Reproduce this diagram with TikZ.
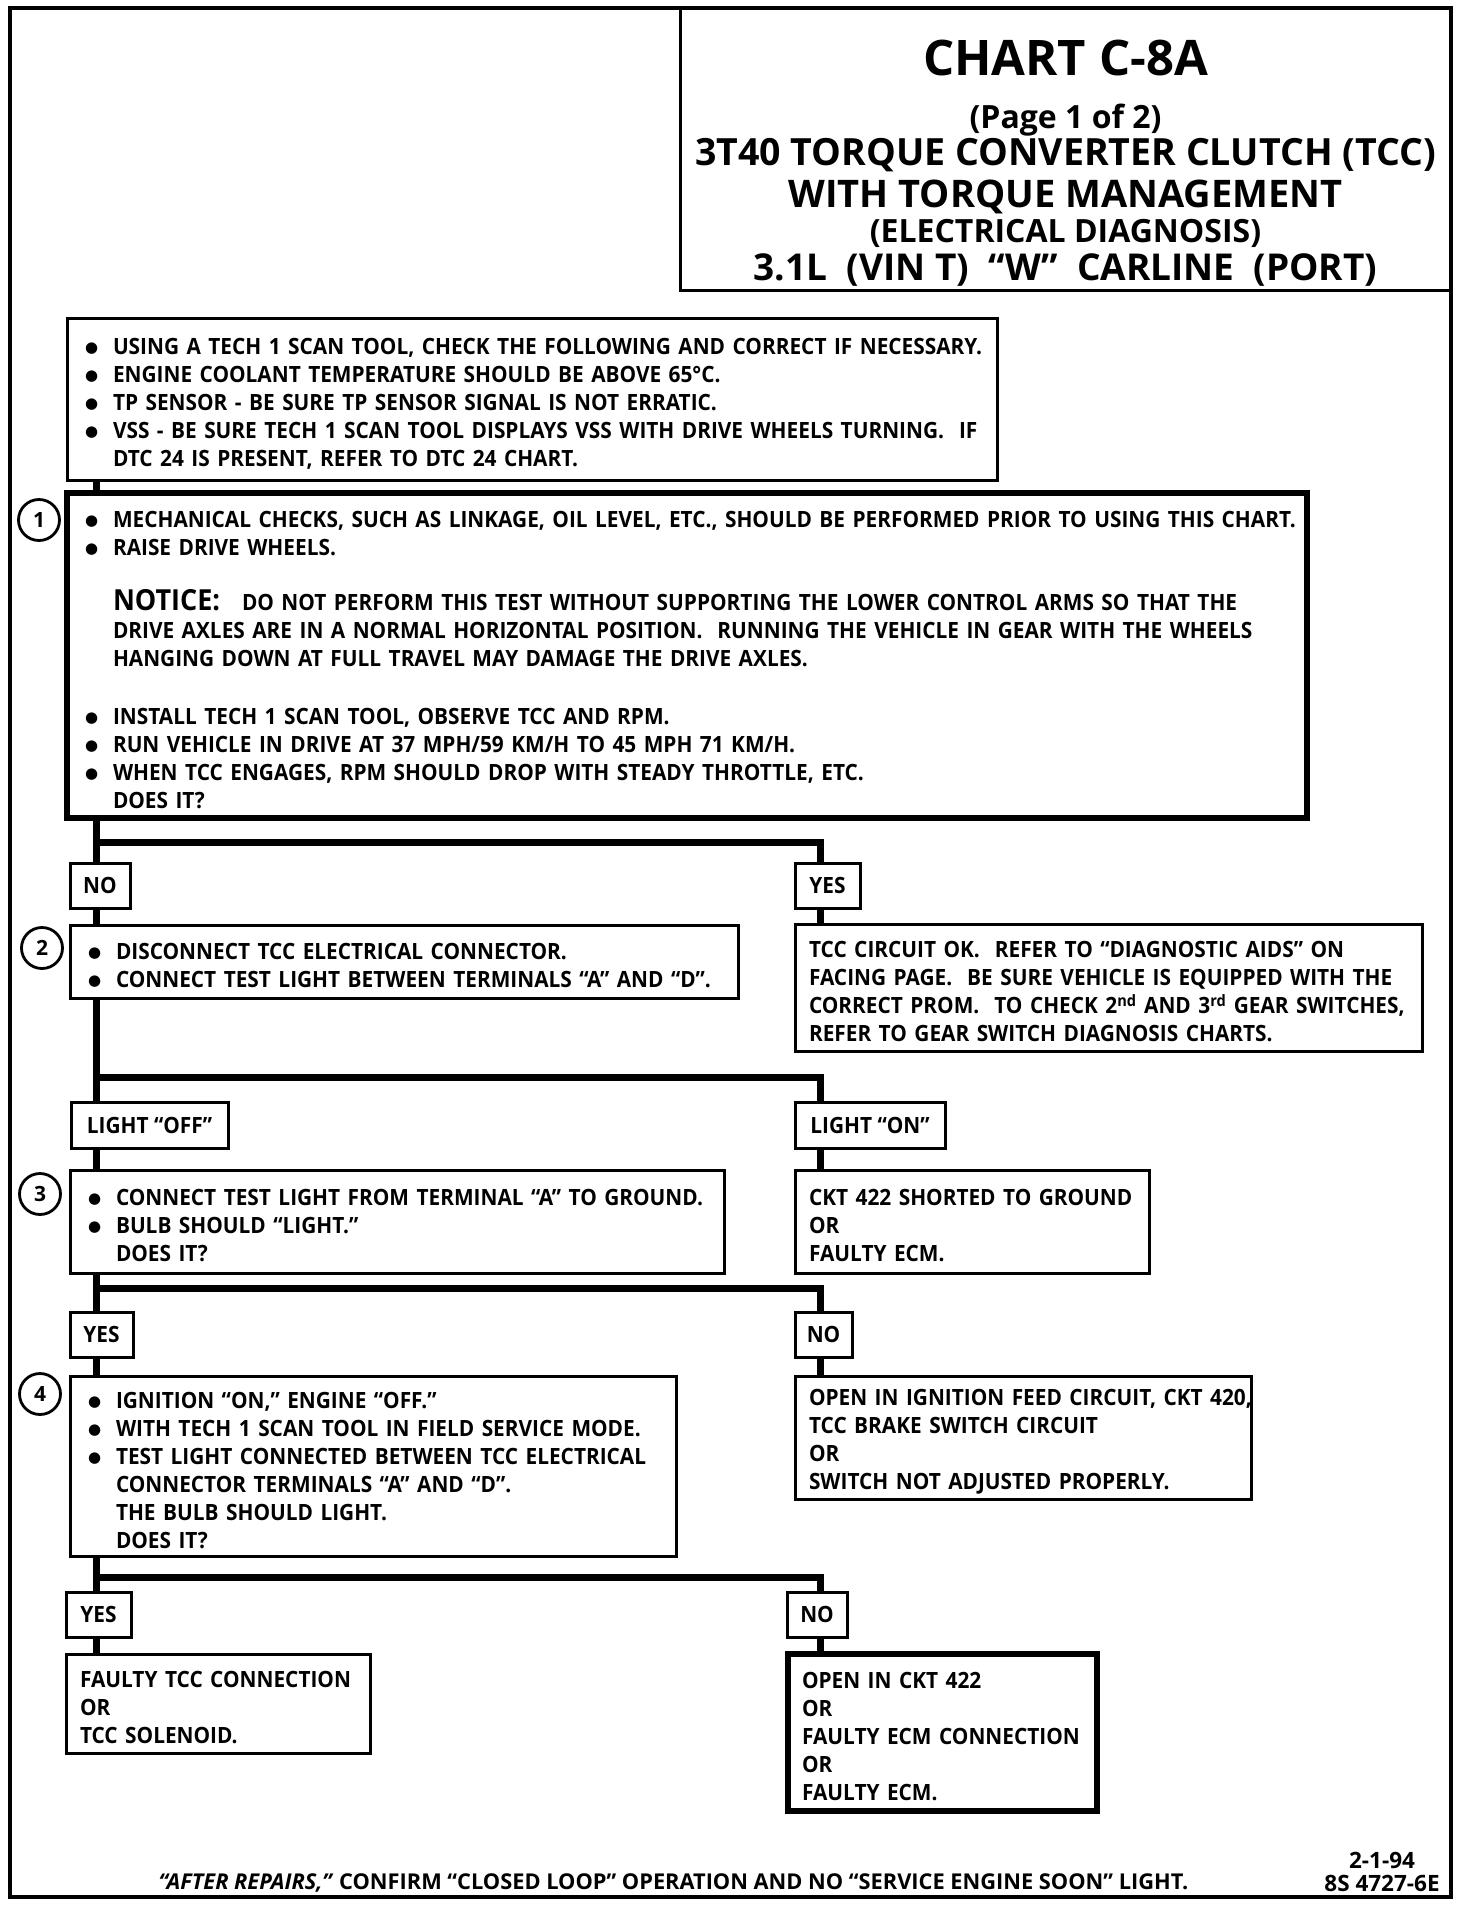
\documentclass[tikz,border=0pt]{standalone}
\usepackage{fontspec}
\newfontfamily\chartfont{Open Sans}[FakeStretch=0.93]
\newfontfamily\headfont{Open Sans}
\newfontfamily\dotfont{DejaVu Sans}
\usetikzlibrary{positioning}

\newcommand{\bul}{\hspace*{10pt}\makebox[28pt][l]{\raisebox{2pt}{\dotfont\fontsize{15}{15}\selectfont ●}}}
\newcommand{\ind}{\hspace*{38pt}}
\newcommand{\drop}{\rule{0pt}{25pt}}

\begin{document}
\begin{tikzpicture}[x=1pt, y=-1pt,
    txt/.style={font=\chartfont\bfseries\fontsize{22.4}{28}\selectfont},
    sheet/.style={draw, line width=4pt, anchor=north west, outer sep=0pt, inner sep=0pt},
    box/.style={txt, draw, line width=3pt, anchor=north west, outer sep=0pt, inner ysep=0pt, inner xsep=8pt, align=left},
    note/.style={box, inner xsep=14pt},
    heavy/.style={line width=5.5pt},
    tag/.style={txt, draw, line width=3pt, anchor=north west, outer sep=0pt, inner sep=0pt, minimum height=45pt},
    num/.style={draw, circle, line width=2.8pt, minimum size=41pt, inner sep=0pt, font=\headfont\bfseries\fontsize{21}{21}\selectfont},
    wire/.style={line width=7pt},
    head/.style={font=\headfont\bfseries\fontsize{#1}{#1}\selectfont, anchor=base},
    foot/.style={font=\headfont\bfseries\fontsize{#1}{#1}\selectfont, anchor=base}
]
    \useasboundingbox (0,0) rectangle (1472,1914);

    \node[sheet, minimum width=1441pt, minimum height=1889pt] (sheet) at (10,8) {};
    \node[sheet, line width=3pt, anchor=north east, minimum width=771pt, minimum height=282pt] (title) at (sheet.north east) {};

    % title block
    \node[head=49] (chart) at ([yshift=-67pt]title.north) {CHART C-8A};
    \node[head=32] (page) at ([yshift=-120pt]title.north) {(Page 1 of 2)};
    \node[head=37.5] (unit) at ([yshift=-157pt]title.north) {3T40 TORQUE CONVERTER CLUTCH (TCC)};
    \node[head=38] (mgmt) at ([yshift=-199pt]title.north) {WITH TORQUE MANAGEMENT};
    \node[head=32] (elec) at ([yshift=-234pt]title.north) {(ELECTRICAL DIAGNOSIS)};
    \node[head=37] (eng) at ([yshift=-272pt]title.north) {3.1L\ \ (VIN T)\ \ “W”\ \ CARLINE\ \ (PORT)};

    % test steps down the left side
    \node[box, text width=914pt, minimum height=162pt, below right=310pt and 57pt of sheet.north west] (box0) {
        \drop\bul USING A TECH 1 SCAN TOOL, CHECK THE FOLLOWING AND CORRECT IF NECESSARY.\\
        \bul ENGINE COOLANT TEMPERATURE SHOULD BE ABOVE 65°C.\\
        \bul TP SENSOR - BE SURE TP SENSOR SIGNAL IS NOT ERRATIC.\\
        \bul VSS - BE SURE TECH 1 SCAN TOOL DISPLAYS VSS WITH DRIVE WHEELS TURNING.\ \ IF\\
        \ind DTC 24 IS PRESENT, REFER TO DTC 24 CHART.};
    \node[box, heavy, text width=1224pt, minimum height=325pt, below right=13pt and 0pt of box0.south west] (box1) {
        \drop\bul MECHANICAL CHECKS, SUCH AS LINKAGE, OIL LEVEL, ETC., SHOULD BE PERFORMED PRIOR TO USING THIS CHART.\\
        \bul RAISE DRIVE WHEELS.\\[27pt]
        \ind\makebox[129pt][l]{\fontsize{29}{28}\selectfont NOTICE:}DO NOT PERFORM THIS TEST WITHOUT SUPPORTING THE LOWER CONTROL ARMS SO THAT THE\\
        \ind DRIVE AXLES ARE IN A NORMAL HORIZONTAL POSITION.\ \ RUNNING THE VEHICLE IN GEAR WITH THE WHEELS\\
        \ind HANGING DOWN AT FULL TRAVEL MAY DAMAGE THE DRIVE AXLES.\\[30pt]
        \bul INSTALL TECH 1 SCAN TOOL, OBSERVE TCC AND RPM.\\
        \bul RUN VEHICLE IN DRIVE AT 37 MPH/59 KM/H TO 45 MPH 71 KM/H.\\
        \bul WHEN TCC ENGAGES, RPM SHOULD DROP WITH STEADY THROTTLE, ETC.\\
        \ind DOES IT?};
    \node[num] (c1) at ([xshift=-28pt,yshift=-27pt]box1.north west) {1};

    \node[tag, minimum width=60pt, below right=45pt and 3pt of box1.south west] (no1) {NO};
    \node[tag, minimum width=65pt, right=665pt of no1] (yes1) {YES};

    \node[box, text width=652pt, minimum height=73pt, below right=17pt and 0pt of no1.south west] (box2) {
        \drop\bul DISCONNECT TCC ELECTRICAL CONNECTOR.\\
        \bul CONNECT TEST LIGHT BETWEEN TERMINALS “A” AND “D”.};
    \node[num] (c2) at ([xshift=-28pt,yshift=-23pt]box2.north west) {2};
    \node[note, text width=599pt, minimum height=127pt, below right=16pt and 0pt of yes1.south west] (okbox) {
        \drop TCC CIRCUIT OK.\ \ REFER TO “DIAGNOSTIC AIDS” ON\\
        FACING PAGE.\ \ BE SURE VEHICLE IS EQUIPPED WITH THE\\
        \mbox{CORRECT PROM.\ \ TO CHECK 2\textsuperscript{nd} AND 3\textsuperscript{rd} GEAR SWITCHES,}\\
        REFER TO GEAR SWITCH DIAGNOSIS CHARTS.};

    \node[tag, minimum width=157pt, minimum height=46pt, below right=104pt and 1pt of box2.south west] (off) {LIGHT “OFF”};
    \node[tag, minimum width=150pt, minimum height=46pt, right=567pt of off] (on) {LIGHT “ON”};

    \node[box, text width=638pt, minimum height=103pt, below right=22pt and -1pt of off.south west] (box3) {
        \drop\bul CONNECT TEST LIGHT FROM TERMINAL “A” TO GROUND.\\
        \bul BULB SHOULD “LIGHT.”\\
        \ind DOES IT?};
    \node[num] (c3) at ([xshift=-30pt,yshift=-24pt]box3.north west) {3};
    \node[note, text width=326pt, minimum height=103pt, below right=22pt and 0pt of on.south west] (short) {
        \drop CKT 422 SHORTED TO GROUND\\
        OR\\
        FAULTY ECM.};

    \node[tag, minimum width=63pt, below right=39pt and 0pt of box3.south west] (yes3) {YES};
    \node[tag, minimum width=57pt, right=662pt of yes3] (no3) {NO};

    \node[box, text width=590pt, minimum height=180pt, below right=19pt and 0pt of yes3.south west] (box4) {
        \drop\bul IGNITION “ON,” ENGINE “OFF.”\\
        \bul WITH TECH 1 SCAN TOOL IN FIELD SERVICE MODE.\\
        \bul TEST LIGHT CONNECTED BETWEEN TCC ELECTRICAL\\
        \ind CONNECTOR TERMINALS “A” AND “D”.\\
        \ind THE BULB SHOULD LIGHT.\\
        \ind DOES IT?};
    \node[num] (c4) at ([xshift=-30pt,yshift=-18pt]box4.north west) {4};
    \node[note, text width=428pt, minimum height=123pt, below right=19pt and 0pt of no3.south west] (ign) {
        \drop\mbox{OPEN IN IGNITION FEED CIRCUIT, CKT 420,}\\
        TCC BRAKE SWITCH CIRCUIT\\
        OR\\
        SWITCH NOT ADJUSTED PROPERLY.};

    \node[tag, minimum width=65pt, below right=36pt and -4pt of box4.south west] (yes4) {YES};
    \node[tag, minimum width=60pt, right=656pt of yes4] (no4) {NO};

    \node[note, text width=276pt, minimum height=99pt, below right=17pt and 0pt of yes4.south west] (tcc) {
        \drop FAULTY TCC CONNECTION\\
        OR\\
        TCC SOLENOID.};
    \node[note, heavy, text width=281pt, minimum height=157pt, below right=17pt and 1pt of no4.south west] (open) {
        \drop OPEN IN CKT 422\\
        OR\\
        FAULTY ECM CONNECTION\\
        OR\\
        FAULTY ECM.};

    % flow lines
    \coordinate (trunk) at (96,0);
    \coordinate (branch) at (820,0);
    \coordinate[below=24pt of box1.south] (fork1);
    \coordinate[below=79pt of box2.south] (fork2);
    \coordinate[below=15pt of box3.south] (fork3);
    \coordinate[below=21pt of box4.south] (fork4);

    \draw[wire] (box0.south -| trunk) -- (box1.north -| trunk);
    \draw[wire] (box1.south -| trunk) -- (no1.north -| trunk);
    \draw[wire] (no1.south -| trunk) -- (box2.north -| trunk);
    \draw[wire] (box2.south -| trunk) -- (off.north -| trunk);
    \draw[wire] (off.south -| trunk) -- (box3.north -| trunk);
    \draw[wire] (box3.south -| trunk) -- (yes3.north -| trunk);
    \draw[wire] (yes3.south -| trunk) -- (box4.north -| trunk);
    \draw[wire] (box4.south -| trunk) -- (yes4.north -| trunk);
    \draw[wire] (yes4.south -| trunk) -- (tcc.north -| trunk);

    \draw[wire] (fork1 -| trunk) -| (yes1.north -| branch);
    \draw[wire] (yes1.south -| branch) -- (okbox.north -| branch);
    \draw[wire] (fork2 -| trunk) -| (on.north -| branch);
    \draw[wire] (on.south -| branch) -- (short.north -| branch);
    \draw[wire] (fork3 -| trunk) -| (no3.north -| branch);
    \draw[wire] (no3.south -| branch) -- (ign.north -| branch);
    \draw[wire] (fork4 -| trunk) -| (no4.north -| branch);
    \draw[wire] (no4.south -| branch) -- (open.north -| branch);

    % footer
    \node[foot=21.8] (repair) at ([xshift=-57pt,yshift=8pt]sheet.south) {\textit{“AFTER REPAIRS,”} CONFIRM “CLOSED LOOP” OPERATION AND NO “SERVICE ENGINE SOON” LIGHT.};
    \node[foot=22.5] (date) at ([xshift=-69pt,yshift=29pt]sheet.south east) {2-1-94};
    \node[foot=22.5] (code) at ([xshift=-69pt,yshift=6pt]sheet.south east) {8S 4727-6E};
\end{tikzpicture}
\end{document}
